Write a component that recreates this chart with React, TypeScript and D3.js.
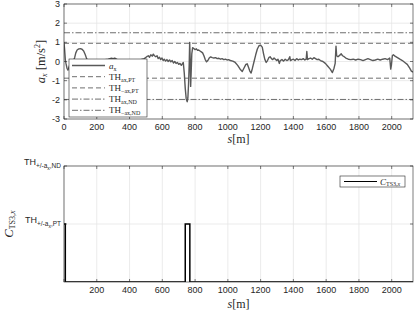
import React from "react"
import * as d3 from "d3"

// s [m] ticks and a_x ticks
const sTicks = [0, 200, 400, 600, 800, 1000, 1200, 1400, 1600, 1800, 2000]
const axTicks = [-3, -2, -1, 0, 1, 2, 3]

// thresholds (m/s^2)
const thPosPT = 0.95
const thNegPT = -0.87
const thPosND = 1.5
const thNegND = -1.98

// measured longitudinal acceleration [s, a_x]
const axSignal: [number, number][] = [
  [0, 1.0], [4, 0.6], [8, 0.1], [12, -0.1], [18, -0.35], [24, -0.45], [30, -0.3], [38, -0.1],
  [48, 0.0], [58, 0.05], [65, 0.2], [72, 0.45], [80, 0.6], [90, 0.66], [100, 0.67], [110, 0.64],
  [120, 0.55], [130, 0.35], [138, 0.15], [146, 0.02], [155, -0.05], [170, 0.0], [200, 0.05],
  [240, 0.08], [270, 0.12], [290, 0.17], [300, 0.15], [310, 0.18], [325, 0.1], [350, 0.05],
  [400, 0.02], [450, 0.05], [490, 0.15], [505, 0.25], [515, 0.3], [522, 0.22], [530, 0.35],
  [538, 0.28], [545, 0.38], [552, 0.3], [560, 0.25], [568, 0.3], [575, 0.15], [583, 0.22],
  [590, 0.1], [598, 0.18], [605, 0.05], [612, 0.12], [620, 0.02], [628, 0.1], [636, 0.0],
  [644, 0.08], [652, -0.02], [660, 0.05], [668, -0.08], [676, 0.0], [684, -0.1], [692, -0.05],
  [700, -0.15], [708, -0.1], [716, -0.2], [722, -0.12], [728, -0.05], [734, -0.6], [740, -1.4],
  [746, -1.95], [752, -2.1], [756, -1.9], [760, -1.2], [764, -0.2], [767, 1.0], [770, 0.2],
  [773, -1.3], [776, -0.6], [780, 0.4], [785, 0.72], [792, 0.68], [800, 0.62], [808, 0.66],
  [815, 0.58], [822, 0.6], [830, 0.55], [838, 0.5], [846, 0.45], [854, 0.3], [862, 0.1],
  [870, -0.02], [878, 0.05], [886, 0.18], [895, 0.24], [905, 0.2], [915, 0.18], [925, 0.2],
  [935, 0.15], [945, 0.17], [955, 0.12], [965, 0.15], [975, 0.1], [985, 0.12], [995, 0.08],
  [1005, 0.1], [1015, 0.05], [1030, 0.02], [1045, -0.05], [1060, -0.2], [1075, -0.4],
  [1088, -0.52], [1098, -0.35], [1110, -0.15], [1118, -0.12], [1126, -0.3], [1134, -0.5],
  [1142, -0.6], [1150, -0.35], [1160, 0.0], [1170, 0.35], [1180, 0.65], [1190, 0.82],
  [1200, 0.85], [1210, 0.75], [1218, 0.4], [1226, 0.1], [1234, -0.05], [1242, 0.05],
  [1250, 0.2], [1258, 0.25], [1266, 0.15], [1274, 0.1], [1282, 0.18], [1290, 0.12],
  [1298, 0.05], [1306, 0.12], [1314, -0.1], [1320, 0.05], [1330, 0.1], [1340, 0.02],
  [1350, 0.12], [1360, 0.05], [1370, 0.1], [1378, 0.25], [1382, 0.05], [1392, 0.1],
  [1400, 0.12], [1410, 0.05], [1420, 0.15], [1430, 0.08], [1440, 0.12], [1450, 0.1],
  [1460, 0.15], [1470, 0.08], [1478, 0.12], [1482, 0.52], [1486, 0.1], [1495, 0.15],
  [1505, 0.18], [1515, 0.12], [1525, 0.2], [1535, 0.15], [1545, 0.1], [1555, 0.12],
  [1565, 0.05], [1580, 0.0], [1595, -0.1], [1610, -0.25], [1625, -0.4], [1638, -0.58],
  [1648, -0.35], [1655, -0.1], [1660, 0.8], [1664, 0.3], [1672, 0.25], [1682, 0.32],
  [1692, 0.4], [1700, 0.3], [1710, 0.25], [1720, 0.18], [1735, 0.12], [1750, 0.1],
  [1765, 0.12], [1780, 0.08], [1795, 0.12], [1810, 0.1], [1825, 0.05], [1840, 0.1],
  [1855, 0.15], [1870, 0.1], [1885, 0.05], [1900, 0.08], [1915, 0.12], [1930, 0.08],
  [1945, 0.12], [1960, 0.15], [1975, 0.1], [1988, 0.18], [1994, -0.4], [1998, -0.2],
  [2004, 0.3], [2010, 0.35], [2020, 0.28], [2035, 0.2], [2050, 0.12], [2065, 0.05],
  [2080, -0.05], [2095, -0.15], [2110, -0.35], [2120, -0.5], [2130, -0.55],
]

// criterion level: 0 none, 1 PT, 2 ND
const cSignal: [number, number][] = [
  [0, 1], [8, 0], [740, 1], [768, 0], [2130, 0],
]
const cTicks = [1, 2]

const W = 415
const H = 313
const left = 64
const right = 413
const sMax = 2130

const axisCol = "#262626"
const gridCol = "#e6e6e6"
const sans = "'Liberation Sans', Arial, sans-serif"
const serif = "'Liberation Serif', 'Times New Roman', serif"

export default function App() {
  const x = d3.scaleLinear().domain([0, sMax]).range([left, right])
  const yTop = d3.scaleLinear().domain([-3, 3]).range([119, 4])
  const yBot = d3.scaleLinear().domain([0, 2]).range([282, 166])

  const axLine = d3.line<[number, number]>()
    .x(d => x(d[0]))
    .y(d => yTop(d[1]))
  const cLine = d3.line<[number, number]>()
    .x(d => x(d[0]))
    .y(d => yBot(d[1]))
    .curve(d3.curveStepAfter)

  const thLines = [
    { v: thPosPT, dash: "5,3" },
    { v: thNegPT, dash: "5,3" },
    { v: thPosND, dash: "6,2,1.5,2" },
    { v: thNegND, dash: "6,2,1.5,2" },
  ]

  const legendItems = [
    { dash: undefined, w: 1.5, main: "a", sub: "x", italicMain: true },
    { dash: "5,3", w: 1, main: "TH", sub: "ax,PT" },
    { dash: "5,3", w: 1, main: "TH", sub: "−ax,PT" },
    { dash: "6,2,1.5,2", w: 1, main: "TH", sub: "ax,ND" },
    { dash: "6,2,1.5,2", w: 1, main: "TH", sub: "−ax,ND" },
  ]

  const [y0t, y1t] = yTop.range()
  const [y0b, y1b] = yBot.range()

  return (
    <svg width={W} height={H} style={{ position: "absolute", left: 0, top: 0, background: "#fff" }}>
      <defs>
        <clipPath id="clipTop">
          <rect x={left} y={y1t} width={right - left} height={y0t - y1t} />
        </clipPath>
        <clipPath id="clipBot">
          <rect x={left} y={y1b} width={right - left} height={y0b - y1b} />
        </clipPath>
      </defs>

      {/* ---------- top plot ---------- */}
      <g>
        {sTicks.map(t => (
          <line key={"gx" + t} x1={x(t)} x2={x(t)} y1={y1t} y2={y0t} stroke={gridCol} strokeWidth={0.8} />
        ))}
        {axTicks.map(t => (
          <line key={"gy" + t} x1={left} x2={right} y1={yTop(t)} y2={yTop(t)} stroke={gridCol} strokeWidth={0.8} />
        ))}
        <g clipPath="url(#clipTop)">
          {thLines.map((l, i) => (
            <line key={i} x1={left} x2={right} y1={yTop(l.v)} y2={yTop(l.v)}
              stroke="#6e6e6e" strokeWidth={1} strokeDasharray={l.dash} />
          ))}
          <path d={axLine(axSignal) || ""} fill="none" stroke="#595959" strokeWidth={1.4} strokeLinejoin="round" />
        </g>
        <rect x={left} y={y1t} width={right - left} height={y0t - y1t} fill="none" stroke={axisCol} strokeWidth={0.6} />
        {sTicks.map(t => (
          <g key={"tx" + t}>
            <line x1={x(t)} x2={x(t)} y1={y0t} y2={y0t - 3} stroke={axisCol} strokeWidth={0.6} />
            <line x1={x(t)} x2={x(t)} y1={y1t} y2={y1t + 3} stroke={axisCol} strokeWidth={0.6} />
            <text x={x(t)} y={y0t + 11} fontSize={9} fontFamily={sans} textAnchor="middle" fill={axisCol}>{t}</text>
          </g>
        ))}
        {axTicks.map(t => (
          <g key={"ty" + t}>
            <line x1={left} x2={left + 3} y1={yTop(t)} y2={yTop(t)} stroke={axisCol} strokeWidth={0.6} />
            <line x1={right} x2={right - 3} y1={yTop(t)} y2={yTop(t)} stroke={axisCol} strokeWidth={0.6} />
            <text x={left - 4} y={yTop(t) + 3} fontSize={9} fontFamily={sans} textAnchor="end" fill={axisCol}>{t}</text>
          </g>
        ))}
        <text x={(left + right) / 2} y={143} fontSize={12} fontFamily={serif} textAnchor="middle" fill={axisCol}>
          <tspan fontStyle="italic">s</tspan>[m]
        </text>
        <text transform={`translate(45, ${(y0t + y1t) / 2}) rotate(-90)`} fontSize={12.5} fontFamily={serif}
          textAnchor="middle" fill={axisCol}>
          <tspan fontStyle="italic">a</tspan>
          <tspan fontStyle="italic" fontSize={8} dy={2}>x</tspan>
          <tspan dy={-2}> [m/s</tspan>
          <tspan fontSize={8} dy={-5}>2</tspan>
          <tspan dy={5}>]</tspan>
        </text>

        {/* legend */}
        <rect x={69} y={59} width={78} height={58} fill="#fff" stroke={axisCol} strokeWidth={0.6} />
        {legendItems.map((it, i) => {
          const ly = 65.5 + i * 11.2
          return (
            <g key={"lg" + i}>
              <line x1={72} x2={105} y1={ly} y2={ly} stroke={i === 0 ? "#595959" : "#6e6e6e"}
                strokeWidth={it.w} strokeDasharray={it.dash} />
              <text x={109} y={ly + 3} fontSize={9} fontFamily={serif} fill={axisCol}>
                <tspan fontStyle={it.italicMain ? "italic" : "normal"}>{it.main}</tspan>
                <tspan fontSize={6} dy={2}>{it.sub}</tspan>
              </text>
            </g>
          )
        })}
      </g>

      {/* ---------- bottom plot ---------- */}
      <g>
        {sTicks.map(t => (
          <line key={"bgx" + t} x1={x(t)} x2={x(t)} y1={y1b} y2={y0b} stroke={gridCol} strokeWidth={0.8} />
        ))}
        {cTicks.map(t => (
          <line key={"bgy" + t} x1={left} x2={right} y1={yBot(t)} y2={yBot(t)} stroke={gridCol} strokeWidth={0.8} />
        ))}
        <g clipPath="url(#clipBot)">
          <path d={cLine(cSignal) || ""} fill="none" stroke="#000" strokeWidth={1.5} />
        </g>
        <rect x={left} y={y1b} width={right - left} height={y0b - y1b} fill="none" stroke={axisCol} strokeWidth={0.6} />
        {sTicks.map(t => (
          <g key={"btx" + t}>
            <line x1={x(t)} x2={x(t)} y1={y0b} y2={y0b - 3} stroke={axisCol} strokeWidth={0.6} />
            <line x1={x(t)} x2={x(t)} y1={y1b} y2={y1b + 3} stroke={axisCol} strokeWidth={0.6} />
            {t > 0 && (
              <text x={x(t)} y={y0b + 11} fontSize={9} fontFamily={sans} textAnchor="middle" fill={axisCol}>{t}</text>
            )}
          </g>
        ))}
        {cTicks.map(t => (
          <g key={"bty" + t}>
            <line x1={left} x2={left + 3} y1={yBot(t)} y2={yBot(t)} stroke={axisCol} strokeWidth={0.6} />
            <line x1={right} x2={right - 3} y1={yBot(t)} y2={yBot(t)} stroke={axisCol} strokeWidth={0.6} />
            <text x={left - 3} y={yBot(t) - 1} fontSize={9} fontFamily={sans} textAnchor="end" fill={axisCol}>
              TH
              <tspan fontSize={6.5} dy={3}>+/-a</tspan>
              <tspan fontSize={5} dy={1.5}>x</tspan>
              <tspan fontSize={6.5} dy={-1.5}>,{t === 2 ? "ND" : "PT"}</tspan>
            </text>
          </g>
        ))}
        <text x={(left + right) / 2} y={308} fontSize={12} fontFamily={serif} textAnchor="middle" fill={axisCol}>
          <tspan fontStyle="italic">s</tspan>[m]
        </text>
        <text transform={`translate(13, ${(y0b + y1b) / 2}) rotate(-90)`} fontSize={12.5} fontFamily={serif}
          textAnchor="middle" fill={axisCol}>
          <tspan fontStyle="italic">C</tspan>
          <tspan fontSize={8} dy={2}>TS3,</tspan>
          <tspan fontSize={8} fontStyle="italic">x</tspan>
        </text>

        {/* legend */}
        <rect x={340} y={176} width={65} height={11} fill="#fff" stroke={axisCol} strokeWidth={0.6} />
        <line x1={344} x2={377} y1={181.5} y2={181.5} stroke="#000" strokeWidth={1} />
        <text x={380} y={184.5} fontSize={9} fontFamily={serif} fill={axisCol}>
          <tspan fontStyle="italic">C</tspan>
          <tspan fontSize={6} dy={1.5}>TS3,</tspan>
          <tspan fontSize={6} fontStyle="italic">x</tspan>
        </text>
      </g>
    </svg>
  )
}
